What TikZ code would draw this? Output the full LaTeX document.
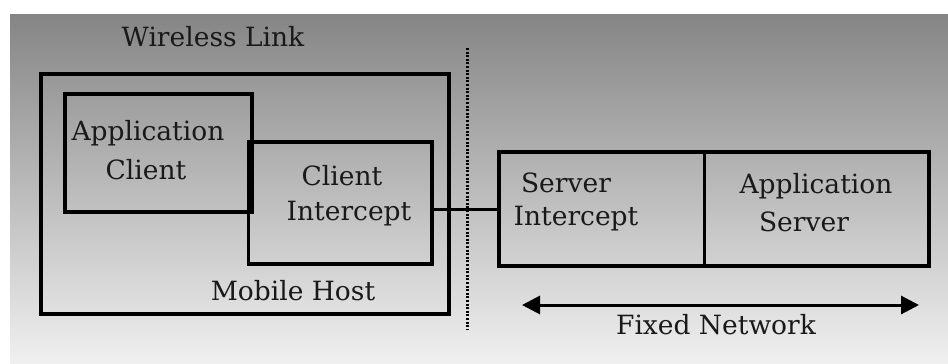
\documentclass[tikz,border=0pt]{standalone}
\usepackage{fontspec}
\setmainfont{DejaVu Serif}
\usetikzlibrary{arrows.meta,calc}
\definecolor{bgtop}{HTML}{858585}
\definecolor{bgbot}{HTML}{F0F0F0}
\begin{document}
\begin{tikzpicture}[x=1pt,y=-1pt,
  box/.style={draw=black,line width=3.5pt,inner sep=0pt,anchor=north west},
  lbl/.style={font=\fontsize{26.5}{29}\selectfont,text=black!90,inner sep=0pt},
  link/.style={draw=black,line width=3pt}]
\useasboundingbox (0,0) rectangle (948,364);
\shade[top color=bgtop,bottom color=bgbot] (10,14) rectangle (948,363);
% boxes
\node[box,minimum width=408pt,minimum height=240pt] (mh) at (39,72) {};
\node[box,minimum width=187pt,minimum height=118pt] (ac) at (63,92) {};
\node[box,minimum width=183.5pt,minimum height=122pt] (ci) at (246.5,140) {};
\node[box,minimum width=430pt,minimum height=114pt] (si) at (497,150) {};
\coordinate (divt) at (704,150);
\coordinate (divb) at (704,264);
\draw[line width=3pt] (divt) -- (divb);
% labels
\node[lbl] (wl) at (213,37) {Wireless Link};
\node[lbl] (mhl) at (293,291) {Mobile Host};
\node[lbl] (acl1) at (148,133) {Application};
\node[lbl] (acl2) at (146,170) {Client};
\node[lbl] (cil1) at (342,176) {Client};
\node[lbl] (cil2) at (349,214) {Intercept};
\node[lbl] (sil1) at (566,183) {Server};
\node[lbl] (sil2) at (576,219) {Intercept};
\node[lbl] (asl1) at (816,186) {Application};
\node[lbl] (asl2) at (804,222) {Server};
\node[lbl] (fn) at (716,325) {Fixed Network};
% dotted separator
\coordinate (dt) at (467,48);
\coordinate (db) at (467,330);
\draw[line width=3pt,dash pattern=on 2pt off 1.6pt] (dt) -- (db);
% link between intercepts
\draw[link] (ci.east |- 0,209) -- (si.west |- 0,209);
% fixed network arrow
\coordinate (fa) at (522,305);
\coordinate (fb) at (919,305);
\draw[line width=3pt,{Triangle[length=18pt,width=18pt]}-{Triangle[length=18pt,width=18pt]}] (fa) -- (fb);
\end{tikzpicture}
\end{document}
